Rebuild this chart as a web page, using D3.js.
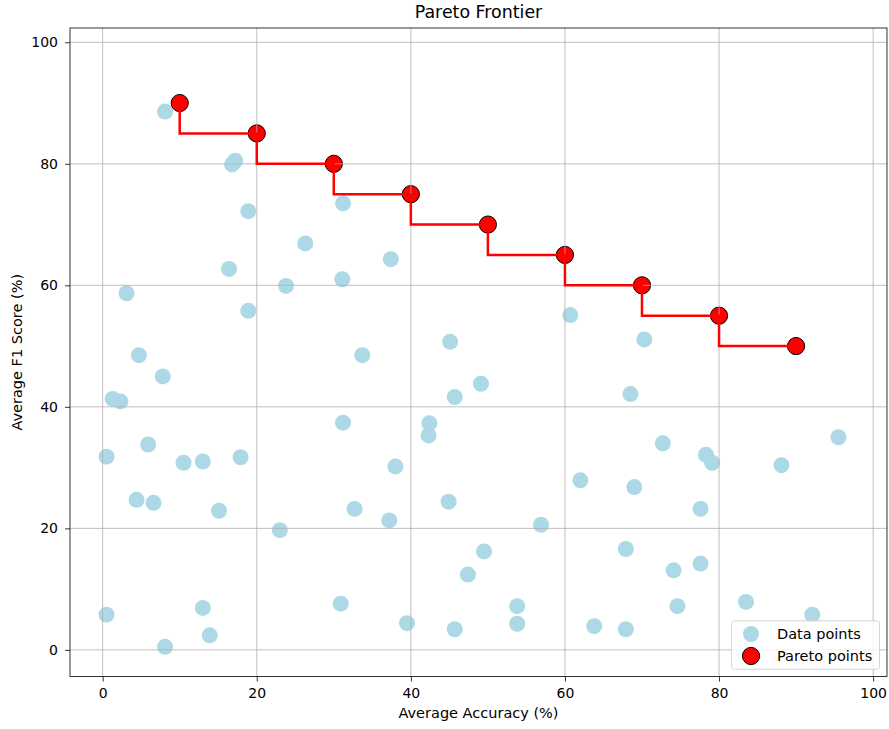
<!DOCTYPE html>
<html>
<head>
<meta charset="utf-8">
<script src="https://cdn.jsdelivr.net/npm/d3@7"></script>
<style>
  html, body { margin: 0; padding: 0; background: #fff; }
  svg { display: block; font-family: "DejaVu Sans", sans-serif; }
</style>
</head>
<body>
<svg id="chart" width="889" height="729"></svg>
<script>
// Candidate models: average accuracy vs average F1 score
const accuracy = [8.1, 16.8, 17.2, 18.9, 31.2, 26.3, 37.4, 16.4, 23.8, 31.1, 3.1, 18.9, 60.7, 70.3, 45.1, 4.7, 33.7, 7.8, 49.1, 45.7, 1.3, 2.3, 68.5, 31.2, 42.4, 42.3, 38.0, 62.0, 72.7, 78.3, 79.1, 88.1, 95.5, 69.0, 0.5, 5.9, 10.5, 13.0, 17.9, 4.4, 6.6, 15.1, 23.0, 0.5, 13.0, 13.9, 8.1, 32.7, 37.2, 44.9, 56.9, 49.5, 47.4, 30.9, 39.5, 45.7, 53.8, 53.8, 63.8, 77.6, 67.9, 74.1, 77.6, 74.6, 83.5, 92.1, 67.9];
const f1Score = [88.6, 79.9, 80.5, 72.2, 73.5, 66.9, 64.3, 62.7, 59.9, 61.0, 58.7, 55.8, 55.1, 51.1, 50.7, 48.5, 48.5, 45.0, 43.8, 41.6, 41.3, 40.9, 42.1, 37.4, 37.3, 35.3, 30.2, 27.9, 34.0, 32.1, 30.8, 30.4, 35.0, 26.8, 31.8, 33.8, 30.8, 31.0, 31.7, 24.7, 24.2, 22.9, 19.7, 5.8, 6.9, 2.4, 0.5, 23.2, 21.3, 24.4, 20.6, 16.2, 12.4, 7.6, 4.4, 3.4, 7.2, 4.3, 3.9, 23.2, 16.6, 13.1, 14.2, 7.2, 7.9, 5.8, 3.4];

// Pareto-optimal models
const paretoAccuracy = [10, 20, 30, 40, 50, 60, 70, 80, 90];
const paretoF1 = [90, 85, 80, 75, 70, 65, 60, 55, 50];

const xTicks = [0, 20, 40, 60, 80, 100];
const yTicks = [0, 20, 40, 60, 80, 100];

const svg = d3.select("#chart");
const plotLeft = 70, plotRight = 887, plotTop = 28, plotBottom = 676.5;
const labelSize = "14.5px";

const x = d3.scaleLinear().domain([-4.24, 101.8]).range([plotLeft, plotRight]);
const y = d3.scaleLinear().domain([-4.38, 102.35]).range([plotBottom, plotTop]);

const points = accuracy.map((a, i) => ({ a, f: f1Score[i] }));
const pareto = paretoAccuracy.map((a, i) => ({ a, f: paretoF1[i] }));

// Plot area clip
svg.append("defs").append("clipPath").attr("id", "plotClip")
  .append("rect").attr("x", plotLeft).attr("y", plotTop)
  .attr("width", plotRight - plotLeft).attr("height", plotBottom - plotTop);

const plot = svg.append("g").attr("clip-path", "url(#plotClip)");

// Scatter of all models
plot.append("g").selectAll("circle").data(points).join("circle")
  .attr("cx", d => x(d.a)).attr("cy", d => y(d.f))
  .attr("r", 8).attr("fill", "#add8e6");

// Pareto markers
plot.append("g").selectAll("circle").data(pareto).join("circle")
  .attr("cx", d => x(d.a)).attr("cy", d => y(d.f))
  .attr("r", 8.6).attr("fill", "#ff0000")
  .attr("stroke", "#000").attr("stroke-width", 1);

// Grid lines
const grid = plot.append("g").attr("stroke", "#b0b0b0").attr("stroke-width", 0.8);
grid.selectAll("line.gx").data(xTicks).join("line").attr("class", "gx")
  .attr("x1", d => x(d)).attr("x2", d => x(d))
  .attr("y1", plotTop).attr("y2", plotBottom);
grid.selectAll("line.gy").data(yTicks).join("line").attr("class", "gy")
  .attr("y1", d => y(d)).attr("y2", d => y(d))
  .attr("x1", plotLeft).attr("x2", plotRight);

// Frontier as a step line
const step = d3.line().x(d => x(d.a)).y(d => y(d.f)).curve(d3.curveStepBefore);
plot.append("path").datum(pareto)
  .attr("d", step).attr("fill", "none")
  .attr("stroke", "#ff0000").attr("stroke-width", 2.5);

// Axes
const xAxis = d3.axisBottom(x).tickValues(xTicks).tickSize(5).tickPadding(6.5).tickFormat(d3.format("d"));
const yAxis = d3.axisLeft(y).tickValues(yTicks).tickSize(5).tickPadding(7).tickFormat(d3.format("d"));

const gx = svg.append("g").attr("transform", `translate(0,${plotBottom})`).call(xAxis);
const gy = svg.append("g").attr("transform", `translate(${plotLeft},0)`).call(yAxis);
[gx, gy].forEach(g => {
  g.select(".domain").remove();
  g.selectAll(".tick line").attr("stroke", "#000").attr("stroke-width", 0.8);
  g.selectAll(".tick text").attr("fill", "#000").style("font-size", "14px")
    .style("font-family", "DejaVu Sans, sans-serif");
});

// Frame
svg.append("rect").attr("x", plotLeft).attr("y", plotTop)
  .attr("width", plotRight - plotLeft).attr("height", plotBottom - plotTop)
  .attr("fill", "none").attr("stroke", "#000").attr("stroke-width", 0.8);

// Titles
svg.append("text").attr("x", (plotLeft + plotRight) / 2).attr("y", 18)
  .attr("text-anchor", "middle").style("font-size", "17.4px")
  .text("Pareto Frontier");
svg.append("text").attr("x", (plotLeft + plotRight) / 2).attr("y", 718)
  .attr("text-anchor", "middle").style("font-size", labelSize)
  .text("Average Accuracy (%)");
svg.append("text").attr("transform", `translate(22,${(plotTop + plotBottom) / 2}) rotate(-90)`)
  .attr("text-anchor", "middle").style("font-size", labelSize)
  .text("Average F1 Score (%)");

// Legend
const legend = svg.append("g");
legend.append("rect").attr("x", 731.5).attr("y", 620.8).attr("width", 148).attr("height", 48.5)
  .attr("rx", 3).attr("fill", "#fff").attr("fill-opacity", 0.8)
  .attr("stroke", "#cccccc").attr("stroke-width", 0.8);
legend.append("circle").attr("cx", 751).attr("cy", 634).attr("r", 8).attr("fill", "#add8e6");
legend.append("circle").attr("cx", 751).attr("cy", 656).attr("r", 8.6)
  .attr("fill", "#ff0000").attr("stroke", "#000").attr("stroke-width", 1);
legend.append("text").attr("x", 777).attr("y", 638.5).style("font-size", labelSize).text("Data points");
legend.append("text").attr("x", 777).attr("y", 660.5).style("font-size", labelSize).text("Pareto points");
</script>
</body>
</html>
